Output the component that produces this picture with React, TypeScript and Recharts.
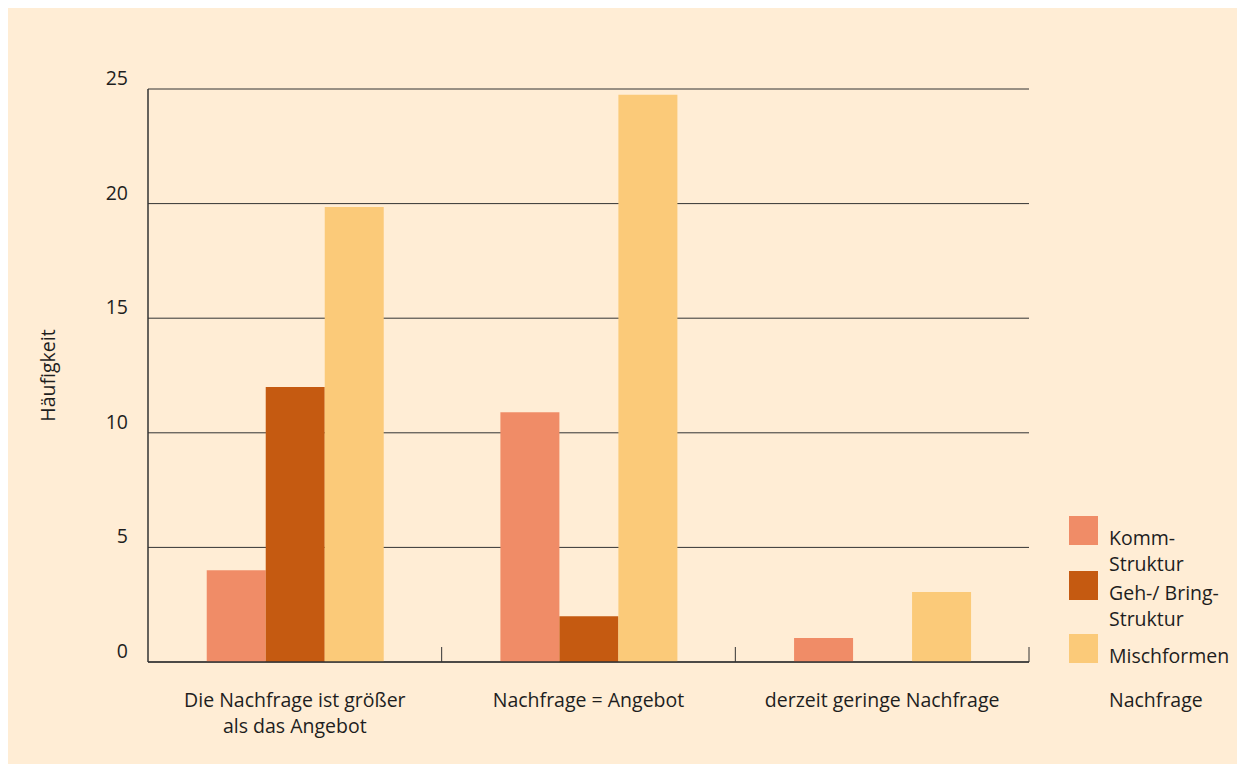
import React from "react";
import { BarChart, Bar, XAxis, YAxis, CartesianGrid } from "recharts";

const categories = ["Die Nachfrage ist größer|als das Angebot", "Nachfrage = Angebot", "derzeit geringe Nachfrage"];
const kommStruktur = [4, 10.9, 1.05];
const gehBringStruktur = [12, 2, 0];
const mischformen = [19.85, 24.75, 3.05];
const seriesNames = ["Komm-|Struktur", "Geh-/ Bring-|Struktur", "Mischformen"];
const seriesKeys = ["komm", "geh", "misch"];
const seriesColors = ["#F08C67", "#C55A11", "#FBCA79"];
const yTicks = [0, 5, 10, 15, 20, 25];
const yLabel = "Häufigkeit";
const legendFooter = "Nachfrage";

const data = categories.map((c, i) => ({
  name: c,
  komm: kommStruktur[i],
  geh: gehBringStruktur[i],
  misch: mischformen[i],
}));

const FONT = "'Open Sans', 'Noto Sans', sans-serif";
const FS = 19.5;
const TEXT = "#1e1e1e";

const XTick = (props: any) => {
  const { x, y, payload } = props;
  const off = payload && payload.offset ? payload.offset : 0;
  const lines = String(payload.value).split("|");
  return (
    <g>
      <line x1={x + off} x2={x + off} y1={y - 15} y2={y} stroke="#333" strokeWidth={1} />
      <text x={x} y={y} textAnchor="middle" fontFamily={FONT} fontSize={FS} fill={TEXT}>
        {lines.map((l, i) => (
          <tspan key={i} x={x} dy={i === 0 ? 45 : 26}>{l}</tspan>
        ))}
      </text>
    </g>
  );
};

const YTick = (props: any) => {
  const { x, y, payload } = props;
  return (
    <text x={x} y={y - 4} textAnchor="end" fontFamily={FONT} fontSize={FS} fill={TEXT}>
      {payload.value}
    </text>
  );
};

const LegendBox = () => {
  const rowTops = [0, 55, 118];
  return (
    <svg width={180} height={210} style={{ position: "absolute", left: 1061, top: 508, overflow: "visible" }}>
      {seriesNames.map((name, i) => {
        const lines = name.split("|");
        const top = rowTops[i];
        return (
          <g key={i}>
            <rect x={0} y={top} width={29} height={29} fill={seriesColors[i]} />
            <text x={40} y={top + 29} fontFamily={FONT} fontSize={FS} fill={TEXT}>
              {lines.map((l, j) => (
                <tspan key={j} x={40} dy={j === 0 ? 0 : 26}>{l}</tspan>
              ))}
            </text>
          </g>
        );
      })}
      <text x={40} y={191} fontFamily={FONT} fontSize={FS} fill={TEXT}>{legendFooter}</text>
    </svg>
  );
};

export default function App() {
  return (
    <div style={{ position: "relative", width: 1237, height: 756, background: "#FFEDD5" }}>
      <BarChart
        width={1237}
        height={756}
        data={data}
        margin={{ top: 81, right: 216, left: 0, bottom: 0 }}
        barCategoryGap="20%"
        barGap={0}
      >
        <CartesianGrid vertical={false} stroke="#333" strokeWidth={1} />
        <XAxis
          dataKey="name"
          height={102}
          tickLine={false}
          tickSize={0}
          tickMargin={0}
          axisLine={{ stroke: "#333", strokeWidth: 1.5 }}
          tick={<XTick />}
          interval={0}
        />
        <YAxis
          width={140}
          domain={[0, 25]}
          ticks={yTicks}
          tickLine={false}
          tickSize={0}
          tickMargin={20}
          axisLine={{ stroke: "#333", strokeWidth: 1.5 }}
          tick={<YTick />}
          label={{
            value: yLabel,
            angle: -90,
            position: "insideLeft",
            offset: 40,
            style: { fontFamily: FONT, fontSize: FS, fill: TEXT, textAnchor: "middle" },
          }}
        />
        {seriesKeys.map((k, i) => (
          <Bar key={k} dataKey={k} name={seriesNames[i]} fill={seriesColors[i]} isAnimationActive={false} />
        ))}
      </BarChart>
      <LegendBox />
    </div>
  );
}
